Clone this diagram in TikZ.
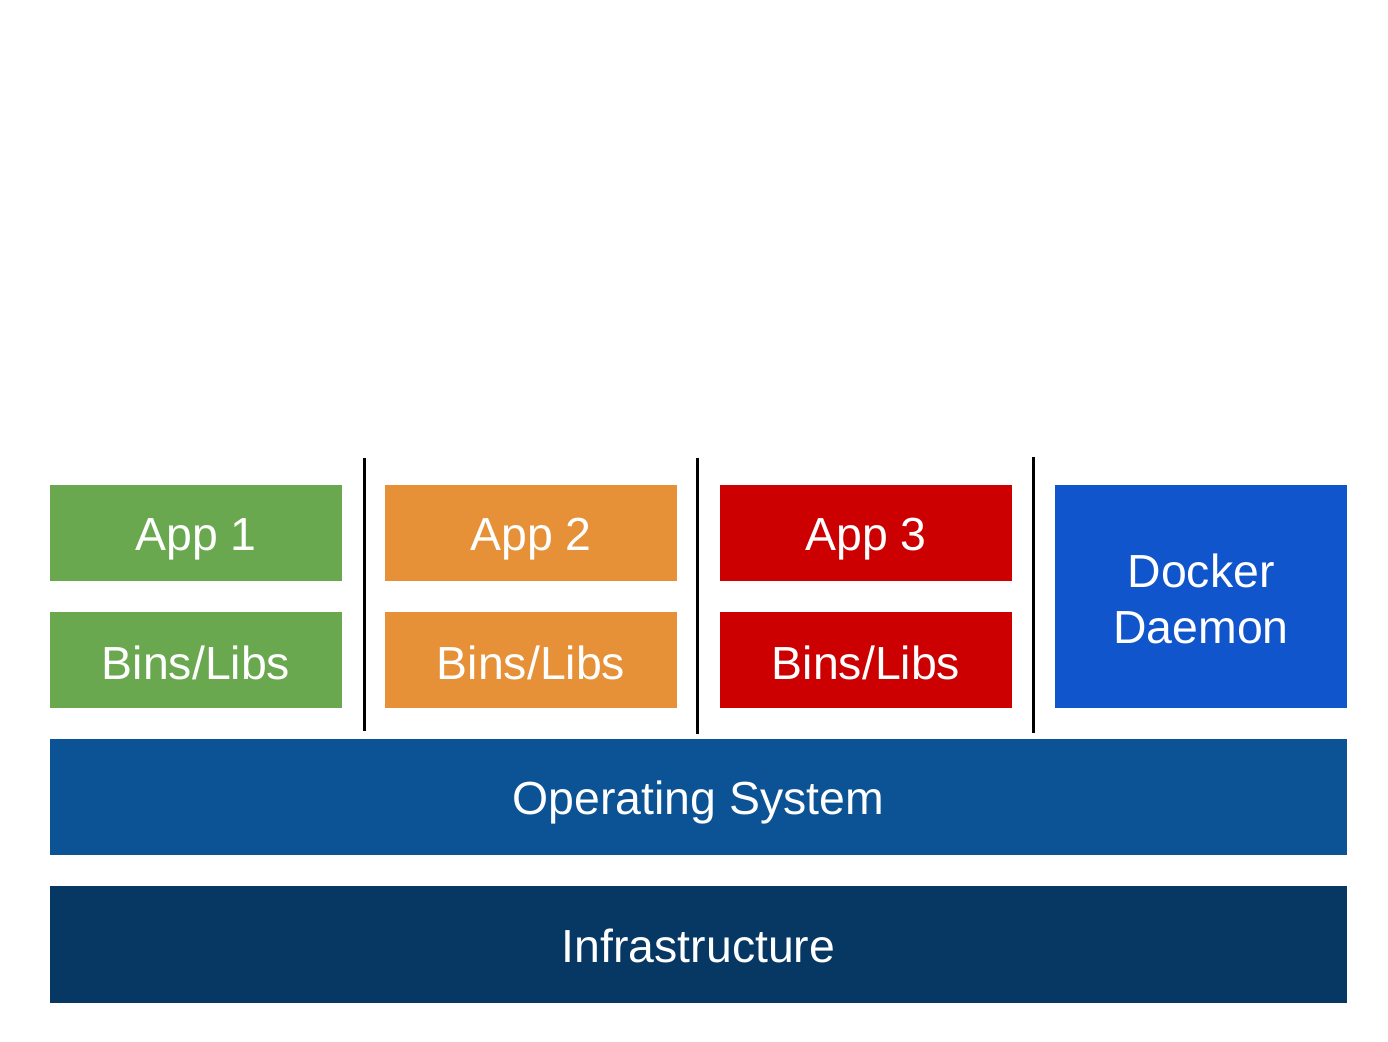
\documentclass[tikz,border=0pt]{standalone}
\usepackage{fontspec}
\setmainfont{Liberation Sans}
\definecolor{cgreen}{HTML}{6AA84F}
\definecolor{corange}{HTML}{E69138}
\definecolor{cred}{HTML}{CC0000}
\definecolor{cdocker}{HTML}{1155CC}
\definecolor{cos}{HTML}{0B5394}
\definecolor{cinfra}{HTML}{073763}
\begin{document}
\begin{tikzpicture}[x=0.5pt,y=-0.5pt,
  blk/.style={draw=none,inner sep=0pt,text=white,align=center,font=\fontsize{23.2}{27.7}\selectfont},
  sep/.style={line width=1.5pt,black}]
\useasboundingbox (0,0) rectangle (1388,1042);
% app columns
\path[fill=cgreen] (50,485) rectangle (342,581);
\node[blk] (app1) at (196,539) {App 1};
\path[fill=cgreen] (50,612) rectangle (342,708);
\node[blk] (bins1) at (196,663) {Bins/Libs};
\path[fill=corange] (385,485) rectangle (677,581);
\node[blk] (app2) at (531,539) {App 2};
\path[fill=corange] (385,612) rectangle (677,708);
\node[blk] (bins2) at (531,663) {Bins/Libs};
\path[fill=cred] (720,485) rectangle (1012,581);
\node[blk] (app3) at (866,539) {App 3};
\path[fill=cred] (720,612) rectangle (1012,708);
\node[blk] (bins3) at (866,663) {Bins/Libs};
\path[fill=cdocker] (1055,485) rectangle (1347,708);
\node[blk] (docker) at (1201,599) {Docker\\Daemon};
\path[fill=cos] (50,739) rectangle (1347,855);
\node[blk] (os) at (698.5,803) {Operating System};
\path[fill=cinfra] (50,886) rectangle (1347,1003);
\node[blk] (infra) at (698.5,946) {Infrastructure};
% separators
\coordinate (s1t) at (364.5,458); \coordinate (s1b) at (364.5,731);
\coordinate (s2t) at (697.5,458); \coordinate (s2b) at (697.5,734);
\coordinate (s3t) at (1033.5,457); \coordinate (s3b) at (1033.5,733);
\draw[sep] (s1t) -- (s1b);
\draw[sep] (s2t) -- (s2b);
\draw[sep] (s3t) -- (s3b);
\end{tikzpicture}
\end{document}
